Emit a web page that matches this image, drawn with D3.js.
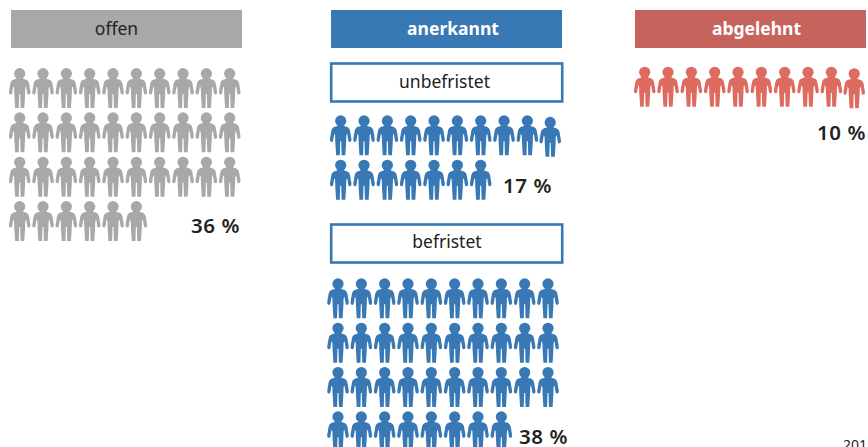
<!doctype html>
<html>
<head>
<style>
    html, body { margin: 0; padding: 0; background: #fff; overflow: hidden; }
    text { font-family: "Noto Sans", sans-serif; }
</style>
</head>
<body>
    <div class="container"></div>

    <script src="https://d3js.org/d3.v7.min.js"></script>

    <script>
        // data
        const categories = ['offen', 'anerkannt', 'abgelehnt'];
        const subCategories = ['unbefristet', 'befristet'];
        const iconGroups = ['offen', 'unbefristet', 'befristet', 'abgelehnt'];
        const percentValues = [36, 17, 38, 10];
        const clippedYear = '201';

        const perRow = 10;
        const colors = {offen: '#a7a8aa', anerkannt: '#3878b4', abgelehnt: '#c5635c'};
        const iconColors = {offen: '#a7a8aa', unbefristet: '#3878b4', befristet: '#3878b4', abgelehnt: '#dd6b60'};

        const personBody = 'M-3,10 L3,10 L4,11 C7,11.2 8.6,12.6 9.4,15.5 L10.8,24 Q11,26.6 9,26.6 Q7.8,26.6 7.5,25 L6.5,18.5 L5.6,20 L5.4,27 L4.6,40 L0.9,40 L0.5,26 L-0.5,26 L-0.9,40 L-4.6,40 L-5.4,27 L-5.6,20 L-6.5,18.5 L-7.5,25 Q-7.8,26.6 -9,26.6 Q-11,26.6 -10.8,24 L-9.4,15.5 C-8.6,12.6 -7,11.2 -4,11 Z';

        const svg = d3.select('.container').append('svg').attr('width', 868).attr('height', 447)
            .style('display', 'block');

        // header bars
        const headerX = d3.scaleOrdinal().domain(categories).range([11, 331, 635]);
        const headerLabelX = d3.scaleOrdinal().domain(categories).range([116.5, 453, 756.5]);
        svg.selectAll('rect.header').data(categories).enter().append('rect')
            .attr('class', 'header')
            .attr('x', d => headerX(d))
            .attr('y', 10)
            .attr('width', 231)
            .attr('height', 38)
            .attr('fill', d => colors[d]);
        svg.selectAll('text.header').data(categories).enter().append('text')
            .attr('class', 'header')
            .attr('x', d => headerLabelX(d))
            .attr('y', 35)
            .attr('text-anchor', 'middle')
            .attr('font-size', 17.5)
            .attr('font-weight', d => d === 'offen' ? 400 : 700)
            .attr('fill', d => d === 'offen' ? '#222' : '#fff')
            .text(d => d);

        // outlined sub headers
        const subY = d3.scaleOrdinal().domain(subCategories).range([63.5, 224.5]);
        const subLabelX = d3.scaleOrdinal().domain(subCategories).range([444.5, 447]);
        const subLabelY = d3.scaleOrdinal().domain(subCategories).range([88, 248.3]);
        svg.selectAll('rect.sub').data(subCategories).enter().append('rect')
            .attr('class', 'sub')
            .attr('x', 331.2)
            .attr('y', d => subY(d))
            .attr('width', 231)
            .attr('height', 38)
            .attr('fill', '#fff')
            .attr('stroke', '#3878b4')
            .attr('stroke-width', 2.6);
        svg.selectAll('text.sub').data(subCategories).enter().append('text')
            .attr('class', 'sub')
            .attr('x', d => subLabelX(d))
            .attr('y', d => subLabelY(d))
            .attr('text-anchor', 'middle')
            .attr('font-size', 17.5)
            .attr('fill', '#222')
            .text(d => d);

        // icon blocks
        const blockLeft = d3.scaleOrdinal().domain(iconGroups).range([19.7, 340.7, 338, 644.7]);
        const blockTop = d3.scaleOrdinal().domain(iconGroups).range([68, 115.3, 278.3, 66.7]);
        const col = d3.scaleLinear().domain([0, perRow - 1]).range([0, 210]);
        const row = d3.scaleLinear().domain([0, 3]).range([0, 133]);
        // the last icon of these two rows sits a bit off the grid in the original
        const nudged = ['unbefristet', 'abgelehnt'];

        iconGroups.forEach((group, g) => {
            const people = d3.range(percentValues[g]);
            const nodes = svg.append('g').attr('class', 'icons ' + group)
                .attr('fill', iconColors[group])
                .selectAll('g').data(people).enter().append('g')
                .attr('transform', i => {
                    const off = (i === perRow - 1 && nudged.includes(group)) ? 1.5 : 0;
                    const x = blockLeft(group) + col(i % perRow) + (off ? -0.5 : 0);
                    const y = blockTop(group) + row(Math.floor(i / perRow)) + off;
                    return `translate(${x},${y})`;
                });
            nodes.append('circle').attr('cx', 0).attr('cy', 5.6).attr('r', 5.6);
            nodes.append('path').attr('d', personBody);
        });

        // percent labels
        const labelRight = d3.scaleOrdinal().domain(iconGroups).range([240, 552, 568, 866]);
        const labelBase = d3.scaleOrdinal().domain(iconGroups).range([233, 192.5, 444, 140]);
        svg.selectAll('text.pct').data(iconGroups).enter().append('text')
            .attr('class', 'pct')
            .attr('x', d => labelRight(d))
            .attr('y', d => labelBase(d))
            .attr('text-anchor', 'end')
            .attr('font-size', 20.5)
            .attr('font-weight', 600)
            .attr('letter-spacing', 0.6)
            .attr('fill', '#222')
            .text((d, i) => percentValues[i] + ' %');

        // year, cut by the page edge
        svg.append('text')
            .attr('x', 843)
            .attr('y', 450)
            .attr('font-size', 14)
            .attr('fill', '#222')
            .text(clippedYear);
    </script>
</body>
</html>
